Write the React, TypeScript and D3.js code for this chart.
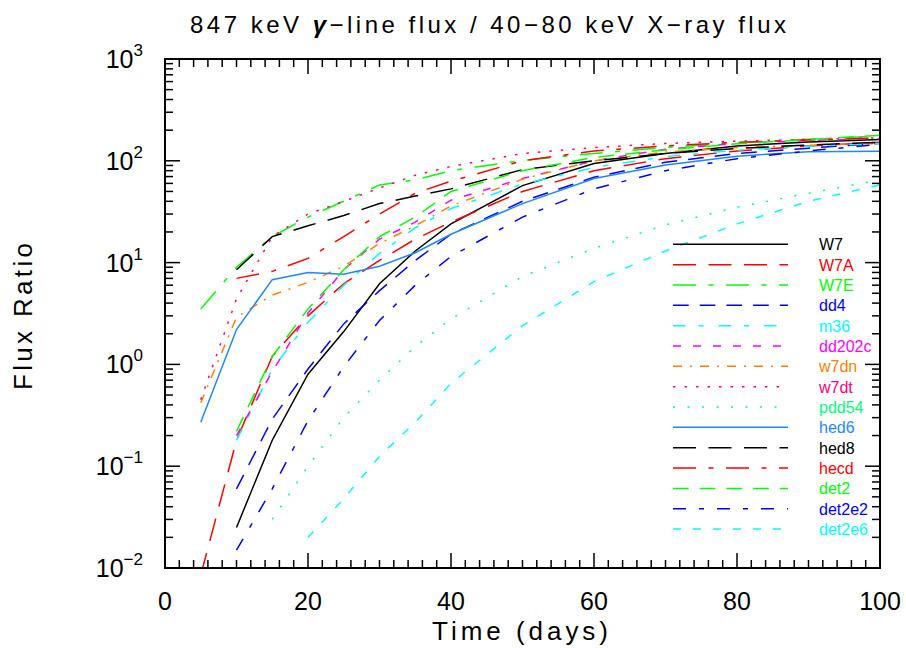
import React from "react";
import * as d3 from "d3";

const days = [5, 10, 15, 20, 25, 30, 35, 40, 50, 60, 70, 80, 90, 100];

const W7 = [null, 0.025, 0.18, 0.8, 2.1, 6.2, 13, 24, 57, 94, 118, 140, 153, 162];
const W7A = [0.0085, 0.18, 1.2, 3.0, 6.2, 10.5, 17, 25, 50, 80, 105, 125, 140, 152];
const W7E = [3.5, 9, 18, 28, 40, 58, 65, 80, 101, 118, 135, 150, 163, 175];
const dd4 = [null, 0.06, 0.29, 0.9, 2.5, 5.3, 10.5, 19, 40, 69, 97, 118, 133, 148];
const m36 = [null, 0.18, 0.9, 2.6, 6.0, 12.3, 22, 34, 59, 86, 110, 127, 139, 148];
const dd202c = [null, 0.2, 0.85, 3.2, 8.5, 17, 25, 41, 67, 100, 130, 148, 158, 165];
const w7dn = [0.42, 2.9, 4.8, 6.4, 9.2, 15.4, 23, 36, 66, 100, 122, 135, 142, 148];
const w7dt = [0.45, 4.4, 18, 30, 40, 54, 72, 88, 118, 135, 148, 156, 162, 168];
const pdd54 = [null, null, 0.03, 0.1, 0.3, 0.7, 1.5, 2.8, 7.3, 13.8, 23.5, 35, 48, 65];
const hed6 = [0.27, 2.2, 6.8, 8.0, 7.7, 9.2, 12.5, 19, 38, 67, 91, 111, 123, 124];
const hed8 = [null, 8.5, 18, 23, 29, 38, 45, 53, 82, 100, 118, 132, 143, 152];
const hecd = [null, 7, 8.2, 11, 18, 30, 48, 63, 100, 125, 140, 152, 160, 168];
const det2 = [null, 0.22, 1.2, 3.5, 8.5, 18, 28, 50, 80, 108, 128, 147, 162, 178];
const det2e2 = [null, 0.015, 0.06, 0.28, 0.95, 2.7, 6.0, 11.5, 28, 53, 80, 105, 125, 145];
const det2e6 = [null, null, null, 0.02, 0.048, 0.125, 0.27, 0.65, 2.4, 6.5, 13, 24, 40, 58];

const seriesNames = ["W7", "W7A", "W7E", "dd4", "m36", "dd202c", "w7dn", "w7dt", "pdd54", "hed6", "hed8", "hecd", "det2", "det2e2", "det2e6"];
const seriesValues = [W7, W7A, W7E, dd4, m36, dd202c, w7dn, w7dt, pdd54, hed6, hed8, hecd, det2, det2e2, det2e6];
const seriesColors = ["#000000", "#ff0000", "#00ff00", "#0000ff", "#00ffff", "#ff00ff", "#ff8000", "#ff0080", "#00ff80", "#1e88ff", "#000000", "#ff0000", "#00ff00", "#0000ff", "#00ffff"];
const seriesDash = ["", "23,12.5", "23,12.5,5,12.5", "15.7,11", "12.5,13,5,15", "8,12", "9,8,2,8", "2.5,9", "2,12.5", "", "23,12.5", "23,12.5,5,12.5", "15.7,11", "13,13,5,13", "8,12"];

const xTickLabels = [0, 20, 40, 60, 80, 100];
const yExponents = [-2, -1, 0, 1, 2, 3];

const FONT = "'Liberation Sans', Arial, sans-serif";

export default function App() {
  const W = 906, H = 648;
  const L = 165, R = 880, T = 59, B = 568;
  const x = d3.scaleLinear().domain([0, 100]).range([L, R]);
  const y = d3.scaleLog().domain([0.01, 1000]).range([B, T]);

  const line = d3
    .line<[number, number | null]>()
    .defined((d) => d[1] != null)
    .x((d) => x(d[0]))
    .y((d) => y(d[1] as number));

  const xMinor = d3.range(0, 101, 2);
  const yMinor: number[] = [];
  for (let e = -2; e < 3; e++) {
    for (let m = 1; m < 10; m++) yMinor.push(m * Math.pow(10, e));
  }
  yMinor.push(1000);

  const legendY0 = 244.3;
  const legendDy = 20.34;

  return (
    <svg width={W} height={H} style={{ position: "absolute", left: 0, top: 0, background: "#fff" }}>
      <rect x={0} y={0} width={W} height={H} fill="#fff" />
      <defs>
        <clipPath id="plotclip">
          <rect x={L} y={T} width={R - L} height={B - T} />
        </clipPath>
      </defs>

      {/* title */}
      <text x={190} y={33} fontFamily={FONT} fontSize={24} textLength={596} lengthAdjust="spacing" fill="#000">
        847 keV <tspan fontStyle="italic" fontWeight="bold">γ</tspan>−line flux / 40−80 keV X−ray flux
      </text>

      {/* series */}
      <g clipPath="url(#plotclip)">
        {seriesValues.map((vals, i) => (
          <path
            key={seriesNames[i]}
            d={line(days.map((d, j) => [d, vals[j]] as [number, number | null])) || ""}
            fill="none"
            stroke={seriesColors[i]}
            strokeWidth={1.5}
            strokeDasharray={seriesDash[i] || undefined}
          />
        ))}
      </g>

      {/* legend */}
      {seriesNames.map((n, i) => {
        const yy = legendY0 + i * legendDy;
        return (
          <g key={"lg" + n}>
            <line x1={673} x2={788} y1={yy} y2={yy} stroke={seriesColors[i]} strokeWidth={1.5} strokeDasharray={seriesDash[i] || undefined} />
            <text x={819} y={yy + 6} fontFamily={FONT} fontSize={16} fill={seriesColors[i]}>
              {n}
            </text>
          </g>
        );
      })}

      {/* axes box */}
      <rect x={L} y={T} width={R - L} height={B - T} fill="none" stroke="#000" strokeWidth={2} />

      {/* x ticks */}
      {xMinor.map((v) => {
        const major = v % 20 === 0;
        const len = major ? 15 : 8;
        return (
          <g key={"xt" + v}>
            <line x1={x(v)} x2={x(v)} y1={B} y2={B - len} stroke="#000" strokeWidth={1.5} />
            <line x1={x(v)} x2={x(v)} y1={T} y2={T + len} stroke="#000" strokeWidth={1.5} />
          </g>
        );
      })}
      {xTickLabels.map((v) => (
        <text key={"xl" + v} x={x(v)} y={610} textAnchor="middle" fontFamily={FONT} fontSize={25} fill="#000">
          {v}
        </text>
      ))}

      {/* y ticks */}
      {yMinor.map((v, i) => {
        const major = Math.abs(Math.log10(v) - Math.round(Math.log10(v))) < 1e-9;
        const len = major ? 15 : 8;
        return (
          <g key={"yt" + i}>
            <line x1={L} x2={L + len} y1={y(v)} y2={y(v)} stroke="#000" strokeWidth={1.5} />
            <line x1={R} x2={R - len} y1={y(v)} y2={y(v)} stroke="#000" strokeWidth={1.5} />
          </g>
        );
      })}
      {yExponents.map((e) => (
        <text key={"yl" + e} x={143} y={y(Math.pow(10, e)) + 9} textAnchor="end" fontFamily={FONT} fontSize={25} fill="#000">
          10
          <tspan dy={-12} fontSize={17}>
            {e < 0 ? "−" + Math.abs(e) : String(e)}
          </tspan>
        </text>
      ))}

      {/* axis titles */}
      <text x={432} y={640} fontFamily={FONT} fontSize={26} textLength={176} lengthAdjust="spacing" fill="#000">
        Time (days)
      </text>
      <text
        transform={`translate(32,390) rotate(-90)`}
        x={0}
        y={0}
        fontFamily={FONT}
        fontSize={26}
        textLength={147}
        lengthAdjust="spacing"
        fill="#000"
      >
        Flux Ratio
      </text>
    </svg>
  );
}
